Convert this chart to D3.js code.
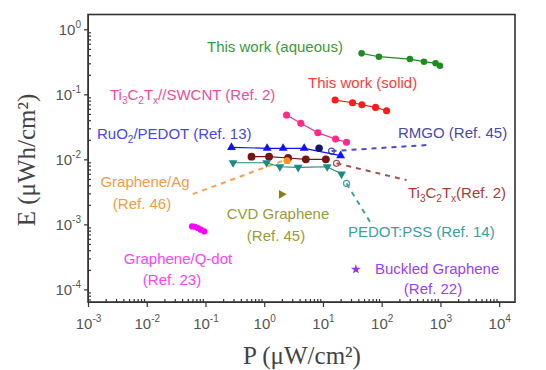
<!DOCTYPE html>
<html>
<head>
<meta charset="utf-8">
<script src="https://cdn.jsdelivr.net/npm/d3@7"></script>
<style>
  body { margin: 0; background: #fff; }
  text { font-family: "Liberation Sans", Arial, sans-serif; }
</style>
</head>
<body>
<svg width="546" height="370"></svg>
<script>
// ---- data (P in uW/cm2, E in uWh/cm2) ----
var aqueousP = [45.5, 89.6, 302, 524, 828, 980],
    aqueousE = [0.427, 0.379, 0.349, 0.318, 0.300, 0.275];
var solidP = [16.1, 31.9, 46, 78.7, 121],
    solidE = [0.0817, 0.0743, 0.0692, 0.063, 0.056];
var swcntP = [2.4, 4.2, 8.2, 16.4, 25.2],
    swcntE = [0.048, 0.0358, 0.0257, 0.0205, 0.0183];
var ruoP = [0.277, 1.12, 2.1, 4.79, 20],
    ruoE = [0.0153, 0.0148, 0.0148, 0.0148, 0.0114];
var rmgoP = [8.6],
    rmgoE = [0.0148];
var rmgoTrendP = [14, 590],
    rmgoTrendE = [0.0134, 0.0166];
var ti3P = [0.608, 1.21, 2.55, 5.11, 11.2],
    ti3E = [0.011, 0.011, 0.0105, 0.01, 0.01];
var ti3TrendP = [17, 265],
    ti3TrendE = [0.0087, 0.0048];
var pedotP = [0.295, 1.1, 1.85, 3.78, 11.8, 20.7],
    pedotE = [0.00887, 0.00887, 0.0077, 0.00753, 0.0077, 0.00594];
var pedotTrendP = [25.2, 63],
    pedotTrendE = [0.00427, 0.0011];
var agP = [2.45],
    agE = [0.0095];
var agTrendP = [0.0608, 2.24],
    agTrendE = [0.00292, 0.00976];
var cvdP = [1.97],
    cvdE = [0.0029];
var qdotP = [0.059, 0.066, 0.074, 0.083, 0.095],
    qdotE = [0.00093, 0.00092, 0.00088, 0.00083, 0.00078];
var buckledP = [36.3],
    buckledE = [0.000203];

var xMajor = [1e-3, 1e-2, 1e-1, 1, 10, 100, 1000, 10000],
    yMajor = [1e-4, 1e-3, 1e-2, 1e-1, 1];

function zip(p, e) { return p.map(function(v, i) { return {p: v, e: e[i]}; }); }

var svg = d3.select("svg");

// plot box
var boxL = 88, boxR = 515, boxT = 14.5, boxB = 302;

var x = d3.scaleLog().domain([1e-3, 18600]).range([boxL, boxR]),
    y = d3.scaleLog().domain([1.69, 6.4e-5]).range([boxT, boxB]);

// minor ticks 2..9 in each decade
var xMinor = [], yMinor = [];
xMajor.forEach(function(d) { for (var k = 2; k < 10; k++) if (d * k < 18600) xMinor.push(d * k); });
[1e-5].concat(yMajor).forEach(function(d) { for (var k = 2; k < 10; k++) if (d * k < 1.69 && d * k > 6.4e-5) yMinor.push(d * k); });

var axisColor = "#333";

// x axis
var gx = svg.append("g").attr("transform", "translate(0," + boxB + ")");
gx.call(d3.axisBottom(x).tickValues(xMajor).tickSize(5).tickSizeOuter(0).tickFormat(""));
var gxm = svg.append("g").attr("transform", "translate(0," + boxB + ")");
gxm.call(d3.axisBottom(x).tickValues(xMinor).tickSize(-3).tickSizeOuter(0).tickFormat(""));
gxm.select(".domain").remove();

// y axis
var gy = svg.append("g").attr("transform", "translate(" + boxL + ",0)");
gy.call(d3.axisLeft(y).tickValues(yMajor).tickSize(4).tickSizeOuter(0).tickFormat(""));
var gym = svg.append("g").attr("transform", "translate(" + boxL + ",0)");
gym.call(d3.axisLeft(y).tickValues(yMinor).tickSize(-3).tickSizeOuter(0).tickFormat(""));
gym.select(".domain").remove();

svg.selectAll(".tick line").attr("stroke", axisColor).attr("stroke-width", 1.2);
svg.selectAll(".domain").attr("stroke", axisColor);

// tick labels with superscript exponents
gx.selectAll(".tick").append("text")
    .attr("y", 27).attr("fill", "#555").attr("text-anchor", "middle")
    .style("font-size", "15px")
    .each(function(d) {
      var t = d3.select(this);
      t.append("tspan").text("10");
      t.append("tspan").attr("dy", -7).style("font-size", "10px").text(Math.round(Math.log10(d)));
    });
gy.selectAll(".tick").append("text")
    .attr("x", -7).attr("y", 5).attr("fill", "#555").attr("text-anchor", "end")
    .style("font-size", "15px")
    .each(function(d) {
      var t = d3.select(this);
      t.append("tspan").text("10");
      t.append("tspan").attr("dy", -7).style("font-size", "10px").text(Math.round(Math.log10(d)));
    });

// frame
svg.append("rect")
    .attr("x", boxL).attr("y", boxT)
    .attr("width", boxR - boxL).attr("height", boxB - boxT)
    .attr("fill", "none").attr("stroke", axisColor).attr("stroke-width", 1.6);

// axis titles
svg.append("text")
    .attr("x", 302).attr("y", 364)
    .attr("text-anchor", "middle").attr("fill", "#444")
    .style("font-family", "'Liberation Serif', 'Times New Roman', serif").style("font-size", "25px")
    .text("P (\u03bcW/cm\u00b2)");
svg.append("text")
    .attr("transform", "translate(35,160) rotate(-90)")
    .attr("text-anchor", "middle").attr("fill", "#444")
    .style("font-family", "'Liberation Serif', 'Times New Roman', serif").style("font-size", "25px")
    .text("E (\u03bcWh/cm\u00b2)");

// series
var series = [
  {data: zip(aqueousP, aqueousE), color: "#1e8c1e", shape: d3.symbolCircle, size: 34, rot: 0, line: true},
  {data: zip(solidP, solidE), color: "#ff1a1a", shape: d3.symbolCircle, size: 40, rot: 0, line: true},
  {data: zip(swcntP, swcntE), color: "#ff2a8a", shape: d3.symbolCircle, size: 40, rot: 0, line: true},
  {data: zip(ruoP, ruoE), color: "#1010ff", shape: d3.symbolTriangle, size: 34, rot: 0, line: true},
  {data: zip(ti3P, ti3E), color: "#7a1414", shape: d3.symbolCircle, size: 48, rot: 0, line: true},
  {data: zip(pedotP, pedotE), color: "#1f8a85", shape: d3.symbolTriangle, size: 34, rot: 180, line: true},
  {data: zip(rmgoP, rmgoE), color: "#141470", shape: d3.symbolCircle, size: 44, rot: 0, line: false},
  {data: zip(agP, agE), color: "#ff9020", shape: d3.symbolCircle, size: 40, rot: 0, line: false},
  {data: zip(cvdP, cvdE), color: "#858010", shape: d3.symbolTriangle, size: 34, rot: 90, line: false},
  {data: zip(qdotP, qdotE), color: "#ff00ff", shape: d3.symbolCircle, size: 30, rot: 0, line: false},
  {data: zip(buckledP, buckledE), color: "#9a30ff", shape: d3.symbolStar, size: 30, rot: 0, line: false}
];

var trends = [
  {data: zip(rmgoTrendP, rmgoTrendE), color: "#4a4ad0", open: true},
  {data: zip(ti3TrendP, ti3TrendE), color: "#a05050", open: true},
  {data: zip(pedotTrendP, pedotTrendE), color: "#40a0a0", open: true},
  {data: zip(agTrendP, agTrendE), color: "#f5a050", open: false}
];

var line = d3.line()
    .x(function(d) { return x(d.p); })
    .y(function(d) { return y(d.e); });

trends.forEach(function(t) {
  svg.append("path")
      .attr("d", line(t.data))
      .attr("fill", "none").attr("stroke", t.color)
      .attr("stroke-width", 2).attr("stroke-dasharray", "5,5");
  // open marker at the start of the dashed line
  if (t.open) {
    svg.append("circle")
        .attr("cx", x(t.data[0].p)).attr("cy", y(t.data[0].e)).attr("r", 3)
        .attr("fill", "none").attr("stroke", t.color).attr("stroke-width", 1.2);
  }
});

series.forEach(function(s) {
  if (s.line) {
    svg.append("path")
        .attr("d", line(s.data))
        .attr("fill", "none").attr("stroke", s.color).attr("stroke-width", 1.2);
  }
  svg.append("g").selectAll("path")
    .data(s.data)
    .enter().append("path")
      .attr("transform", function(d) { return "translate(" + x(d.p) + "," + y(d.e) + ") rotate(" + s.rot + ")"; })
      .attr("d", d3.symbol().type(s.shape).size(s.size))
      .attr("fill", s.color);
});

// annotations (layout only)
var notes = [
  {parts: [["This work (aqueous)"]], x: 207, y: 52, color: "#3a9a3a", anchor: "start"},
  {parts: [["This work (solid)"]], x: 308, y: 88, color: "#ff3a3a", anchor: "start"},
  {parts: [["Ti"], ["3", 1], ["C"], ["2", 1], ["T"], ["x", 1], ["//SWCNT (Ref. 2)"]], x: 110, y: 100, color: "#ee4c9c", anchor: "start"},
  {parts: [["RuO"], ["2", 1], ["/PEDOT (Ref. 13)"]], x: 97, y: 139, color: "#4646ee", anchor: "start"},
  {parts: [["RMGO (Ref. 45)"]], x: 398, y: 138, color: "#4a4aa8", anchor: "start"},
  {parts: [["Graphene/Ag"]], x: 145, y: 187, color: "#f59a45", anchor: "middle"},
  {parts: [["(Ref. 46)"]], x: 142, y: 208.5, color: "#f59a45", anchor: "middle"},
  {parts: [["Ti"], ["3", 1], ["C"], ["2", 1], ["T"], ["x", 1], ["(Ref. 2)"]], x: 408, y: 198, color: "#a83a3a", anchor: "start"},
  {parts: [["CVD Graphene"]], x: 278, y: 219, color: "#9a9a3a", anchor: "middle"},
  {parts: [["(Ref. 45)"]], x: 276, y: 241, color: "#9a9a3a", anchor: "middle"},
  {parts: [["PEDOT:PSS (Ref. 14)"]], x: 348, y: 237, color: "#3aa0a0", anchor: "start"},
  {parts: [["Graphene/Q-dot"]], x: 178, y: 263.5, color: "#ff40ff", anchor: "middle"},
  {parts: [["(Ref. 23)"]], x: 172, y: 284.5, color: "#ff40ff", anchor: "middle"},
  {parts: [["Buckled Graphene"]], x: 375, y: 273.5, color: "#9a40ff", anchor: "start"},
  {parts: [["(Ref. 22)"]], x: 433, y: 293.5, color: "#9a40ff", anchor: "middle"}
];

notes.forEach(function(n) {
  var t = svg.append("text")
      .attr("x", n.x).attr("y", n.y)
      .attr("fill", n.color).attr("text-anchor", n.anchor)
      .style("font-size", "15px");
  var shifted = false;
  n.parts.forEach(function(p) {
    var ts = t.append("tspan").text(p[0]);
    if (p[1]) {
      ts.style("font-size", "10px").attr("dy", shifted ? 0 : 4);
      shifted = true;
    } else if (shifted) {
      ts.attr("dy", -4);
      shifted = false;
    }
  });
});
</script>
</body>
</html>
